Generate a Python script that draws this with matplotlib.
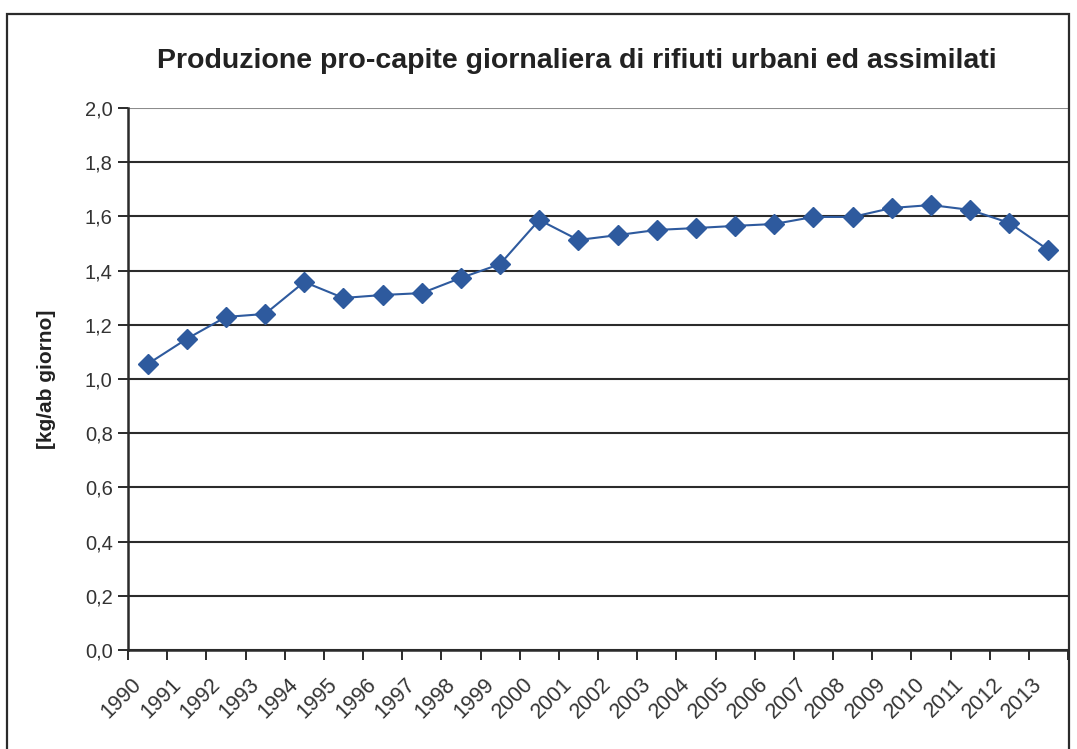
import matplotlib.pyplot as plt
import matplotlib.patches as patches
import matplotlib.transforms as mtransforms
import numpy as np
from matplotlib.ticker import FuncFormatter

years = [str(y) for y in range(1990, 2014)]
values = [1.055, 1.148, 1.229, 1.240, 1.358, 1.299, 1.310, 1.317, 1.373, 1.424,
          1.587, 1.513, 1.531, 1.550, 1.557, 1.565, 1.572, 1.598, 1.598, 1.631,
          1.642, 1.624, 1.576, 1.476]

plt.rcParams['font.family'] = ['Liberation Sans', 'DejaVu Sans']

fig = plt.figure(figsize=(10.77, 7.49), dpi=100)
ax = fig.add_axes([128 / 1077, 1 - 650 / 749, 940 / 1077, 542 / 749])

x = np.arange(len(years)) + 0.5
ax.plot(x, values, color='#2E5A9E', lw=1.5, marker='D', markersize=10,
        markerfacecolor='#2E5A9E', markeredgecolor='#2E5A9E', zorder=3)

ax.set_xlim(0, len(years))
ax.set_ylim(0, 2.0)
ax.set_yticks(np.arange(0, 2.01, 0.2))
ax.yaxis.set_major_formatter(FuncFormatter(lambda v, p: f"{v:.1f}".replace('.', ',')))
# ticks sit between categories, one extra at the right end
ax.set_xticks(np.arange(len(years) + 1))
ax.set_xticklabels(years + [''], rotation=45, ha='right', rotation_mode='anchor')

ax.tick_params(axis='both', labelsize=14.5, colors='#2b2b2b', labelcolor='#333333',
               length=7, width=1.4, direction='out')
ax.tick_params(axis='y', pad=4)
ax.tick_params(axis='x', pad=10, labelsize=15.5)
shift = mtransforms.ScaledTranslation(3 / 100, 0, fig.dpi_scale_trans)
for lbl in ax.get_xticklabels():
    lbl.set_transform(lbl.get_transform() + shift)

ax.grid(axis='y', color='#2b2b2b', lw=1.5)
ax.set_axisbelow(True)
ygl = ax.get_ygridlines()
ygl[-1].set_color('#8c8c8c')

for s in ['top', 'right']:
    ax.spines[s].set_visible(False)
ax.spines['left'].set_color('#2b2b2b')
ax.spines['left'].set_linewidth(1.8)
ax.spines['bottom'].set_color('#2b2b2b')
ax.spines['bottom'].set_linewidth(1.8)

ax.set_ylabel('[kg/ab giorno]', fontsize=15, fontweight='bold', color='#222222')
ax.yaxis.set_label_coords(-72 / 940, 0.5)
fig.text(577 / 1077, 1 - 61 / 749, 'Produzione pro-capite giornaliera di rifiuti urbani ed assimilati',
         ha='center', va='center', fontsize=20.5, fontweight='bold', color='#222222')

frame = patches.Rectangle((7 / 1077, -0.05), 1062 / 1077, 1 - 14 / 749 + 0.05,
                          transform=fig.transFigure, fill=False, edgecolor='#2b2b2b',
                          lw=1.6, clip_on=False)
fig.patches.append(frame)

fig.savefig('out.png', dpi=100)
